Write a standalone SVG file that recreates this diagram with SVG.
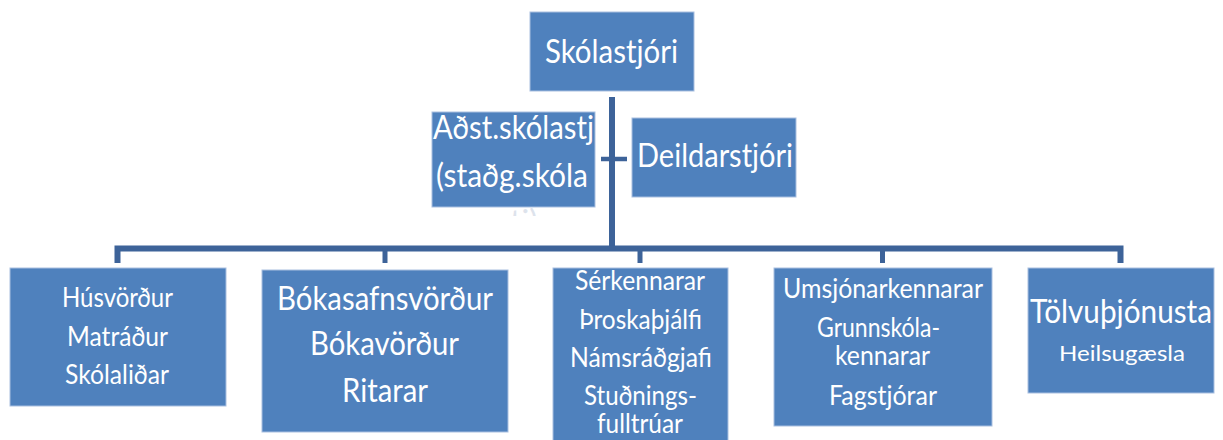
<svg xmlns="http://www.w3.org/2000/svg" width="1223" height="440" viewBox="0 0 1223 440">
<defs>
<style>
.box{fill:#4f81bd;stroke:#a9bfe0;stroke-width:1}
.t{fill:#ffffff;font-family:Lato,"Open Sans","Liberation Sans",sans-serif;text-anchor:middle}
.s32{font-size:32px}
.s33{font-size:33px}
.s26{font-size:26px}
.s21{font-size:21px}
.con{fill:none;stroke:#3d6399;stroke-linejoin:miter;stroke-linecap:butt}
</style>
<clipPath id="overflowClip"><rect x="420" y="190" width="200" height="26"/></clipPath>
</defs>
<rect width="1223" height="440" fill="#ffffff"/>
<g id="connectors">
<line class="con" x1="612" y1="97" x2="612" y2="251" stroke-width="6"/>
<line class="con" x1="601" y1="159" x2="627" y2="159" stroke-width="4.5"/>
<path class="con" d="M117.5 263 V248.5 H1120.5 V263" stroke-width="6"/>
<line class="con" x1="385" y1="248" x2="385" y2="263" stroke-width="5"/>
<line class="con" x1="640" y1="248" x2="640" y2="263" stroke-width="5"/>
<line class="con" x1="882.5" y1="248" x2="882.5" y2="263" stroke-width="5"/>
</g>
<g id="skolastjori">
<rect class="box" x="530" y="12" width="164" height="79"/>
<text class="t s32" x="611.5" y="63" textLength="133" lengthAdjust="spacingAndGlyphs">Skólastjóri</text>
</g>
<g id="adst-skolastjori">
<rect class="box" x="432" y="112" width="163" height="95"/>
<text class="t s32" x="513.5" y="139" textLength="161" lengthAdjust="spacingAndGlyphs">Aðst.skólastj</text>
<text class="t s32" x="512" y="187" textLength="152" lengthAdjust="spacingAndGlyphs">(staðg.skóla</text>
<text class="t s32" x="517" y="233" fill="#dde3ec" style="fill:#dde3ec" clip-path="url(#overflowClip)">stj)</text>
</g>
<g id="deildarstjori">
<rect class="box" x="632" y="118" width="164" height="79"/>
<text class="t s32" x="715" y="167" textLength="156" lengthAdjust="spacingAndGlyphs">Deildarstjóri</text>
</g>
<g id="husvordur">
<rect class="box" x="10" y="268" width="216" height="138"/>
<text class="t s26" x="117.5" y="307" textLength="111" lengthAdjust="spacingAndGlyphs">Húsvörður</text>
<text class="t s26" x="117.5" y="346" textLength="101" lengthAdjust="spacingAndGlyphs">Matráður</text>
<text class="t s26" x="117" y="384" textLength="104" lengthAdjust="spacingAndGlyphs">Skólaliðar</text>
</g>
<g id="bokasafnsvordur">
<rect class="box" x="262" y="270" width="246" height="162"/>
<text class="t s33" x="385" y="310" textLength="216" lengthAdjust="spacingAndGlyphs">Bókasafnsvörður</text>
<text class="t s33" x="384.5" y="355" textLength="149" lengthAdjust="spacingAndGlyphs">Bókavörður</text>
<text class="t s33" x="385" y="402" textLength="86" lengthAdjust="spacingAndGlyphs">Ritarar</text>
</g>
<g id="serkennarar">
<rect class="box" x="553" y="268" width="175" height="180"/>
<text class="t s26" x="640" y="290" textLength="130" lengthAdjust="spacingAndGlyphs">Sérkennarar</text>
<text class="t s26" x="640.5" y="329" textLength="123" lengthAdjust="spacingAndGlyphs">Þroskaþjálfi</text>
<text class="t s26" x="641" y="367" textLength="142" lengthAdjust="spacingAndGlyphs">Námsráðgjafi</text>
<text class="t s26" x="640.5" y="405" textLength="113" lengthAdjust="spacingAndGlyphs">Stuðnings-</text>
<text class="t s26" x="640" y="433" textLength="86" lengthAdjust="spacingAndGlyphs">fulltrúar</text>
</g>
<g id="umsjonarkennarar">
<rect class="box" x="774" y="268" width="218" height="158"/>
<text class="t s26" x="883" y="298" textLength="200" lengthAdjust="spacingAndGlyphs">Umsjónarkennarar</text>
<text class="t s26" x="878.5" y="337" textLength="123" lengthAdjust="spacingAndGlyphs">Grunnskóla-</text>
<text class="t s26" x="882.5" y="365" textLength="95" lengthAdjust="spacingAndGlyphs">kennarar</text>
<text class="t s26" x="883" y="405" textLength="108" lengthAdjust="spacingAndGlyphs">Fagstjórar</text>
</g>
<g id="tolvuthjonusta">
<rect class="box" x="1028" y="268" width="186" height="125"/>
<text class="t s33" x="1121" y="323" textLength="182" lengthAdjust="spacingAndGlyphs">Tölvuþjónusta</text>
<text class="t s21" x="1122" y="361" textLength="126" lengthAdjust="spacingAndGlyphs">Heilsugæsla</text>
</g>
</svg>
